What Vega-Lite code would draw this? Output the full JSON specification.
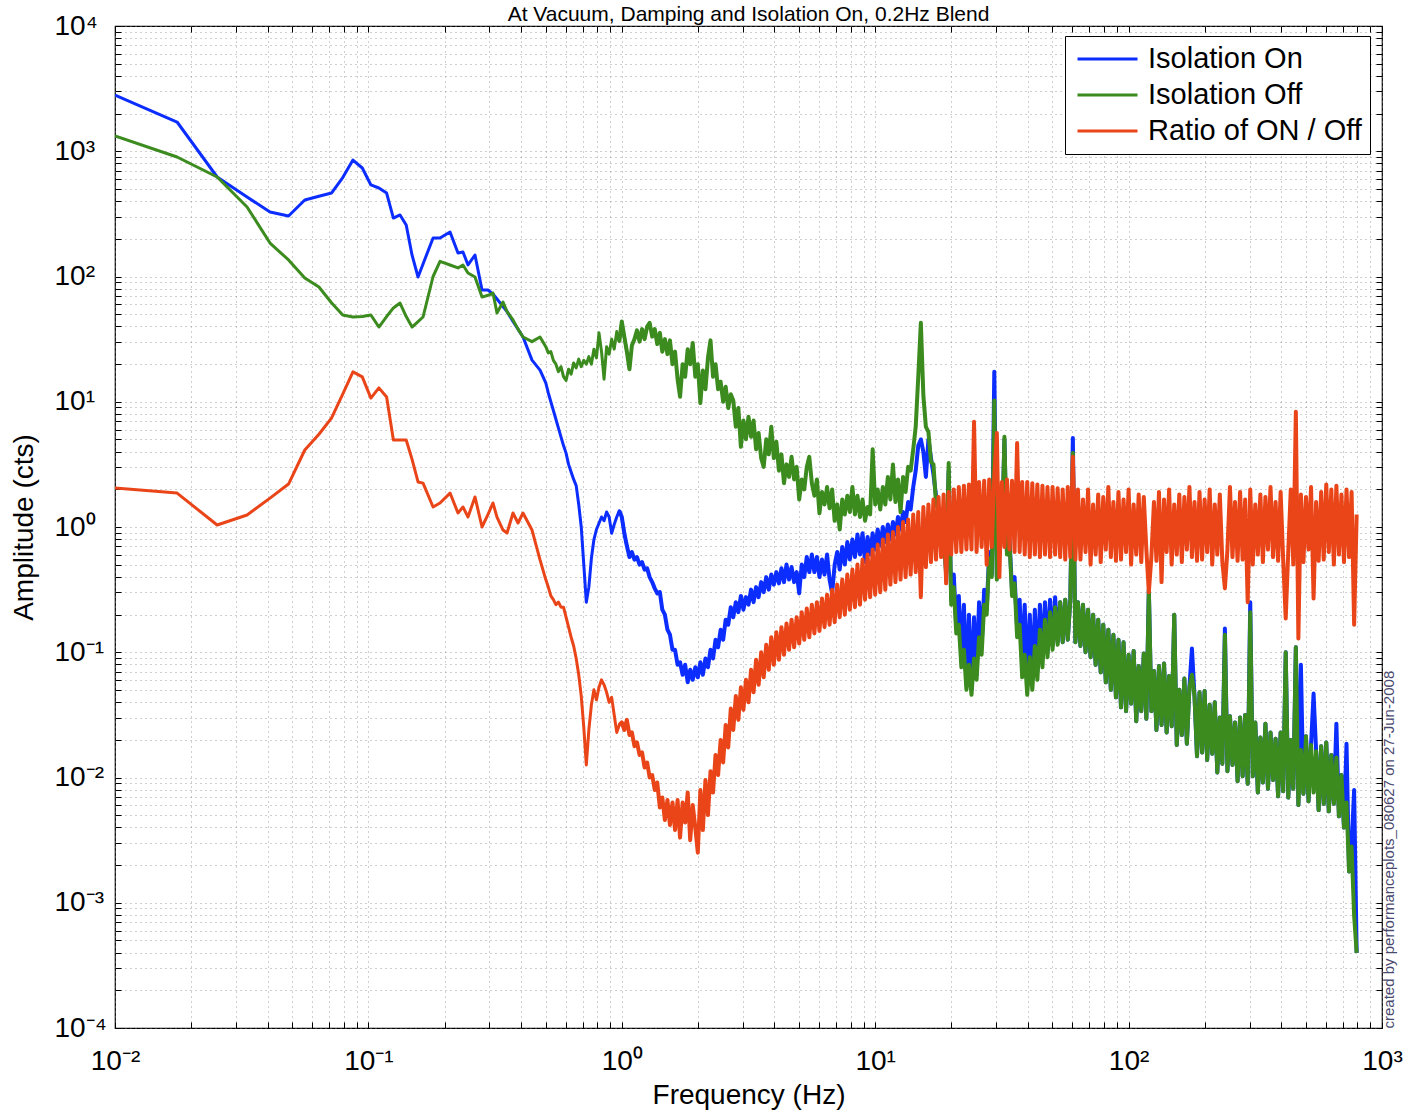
{
"$schema":"https://vega.github.io/schema/vega-lite/v6.json",
"width":1267,"height":1002,"autosize":"none",
"padding":{"left":115,"top":26,"right":25,"bottom":85},
"background":"white",
"title":{"text":"At Vacuum, Damping and Isolation On, 0.2Hz Blend","fontSize":21,"font":"Liberation Sans","fontWeight":"normal","anchor":"middle","baseline":"alphabetic","offset":-30,"color":"#000"},
"config":{"view":{"stroke":"#000","strokeWidth":1.2},"axis":{"labelFont":"Liberation Sans","titleFont":"Liberation Sans","labelColor":"#000","titleColor":"#000","titleFontWeight":"normal","tickColor":"#000","gridColor":"#888","gridDash":[1,4],"gridWidth":1,"gridOpacity":0.8}},
"resolve":{"axis":{"x":"independent","y":"independent"}},
"layer":[
{"data":{"values":[
{"f":0.01,"on":2812,"off":1324,"r":2.046},
{"f":0.01758,"on":1712,"off":899.5,"r":1.866},
{"f":0.0253,"on":622.9,"off":622.9,"r":1.037},
{"f":0.0332,"on":431,"off":359,"r":1.247},
{"f":0.0409,"on":327,"off":185,"r":1.7},
{"f":0.0484,"on":304,"off":135.5,"r":2.203},
{"f":0.0561,"on":408,"off":97.3,"r":4.12},
{"f":0.0638,"on":437,"off":82.4,"r":5.5},
{"f":0.0715,"on":464,"off":61.7,"r":7.41},
{"f":0.0792,"on":617,"off":49.3,"r":11.5},
{"f":0.0869,"on":851,"off":47.5,"r":17.3},
{"f":0.0946,"on":735,"off":47.9,"r":15.8},
{"f":0.1023,"on":538,"off":49.3,"r":10.7},
{"f":0.11,"on":509,"off":39.5,"r":12.9},
{"f":0.118,"on":464,"off":47.9,"r":10.9},
{"f":0.1255,"on":293,"off":56.1,"r":4.95},
{"f":0.1333,"on":310,"off":61.4,"r":4.95},
{"f":0.141,"on":258,"off":47.9,"r":4.95},
{"f":0.1487,"on":148,"off":39.5,"r":3.47},
{"f":0.157,"on":99.1,"off":43.7,"r":2.29},
{"f":0.1643,"on":126,"off":47.5,"r":2.24},
{"f":0.18,"on":203,"off":100,"r":1.445},
{"f":0.1917,"on":203,"off":132,"r":1.556},
{"f":0.21,"on":226.6,"off":123.6,"r":1.866},
{"f":0.2257,"on":154,"off":117,"r":1.294},
{"f":0.2362,"on":157,"off":123.6,"r":1.445},
{"f":0.2472,"on":123.6,"off":106.7,"r":1.202},
{"f":0.2634,"on":148.5,"off":99.1,"r":1.738},
{"f":0.2808,"on":78,"off":68.5,"r":1.0},
{"f":0.2965,"on":78,"off":70.8,"r":1.26},
{"f":0.3102,"on":72.4,"off":73.8,"r":1.556},
{"f":0.3217,"on":66.1,"off":51.2,"r":1.2},
{"f":0.3398,"on":57.5,"off":62.5,"r":0.946},
{"f":0.3524,"on":52.5,"off":52.5,"r":0.895},
{"f":0.3721,"on":43.7,"off":45,"r":1.294},
{"f":0.3894,"on":38,"off":38,"r":1.076},
{"f":0.4075,"on":32.9,"off":32.9,"r":1.294},
{"f":0.4423,"on":21.5,"off":30.2,"r":0.946},
{"f":0.4757,"on":17.9,"off":32.9,"r":0.546},
{"f":0.5012,"on":14.13,"off":27.54,"r":0.3802},
{"f":0.5129,"on":11.75,"off":24.55,"r":0.3311},
{"f":0.5248,"on":10,"off":25.12,"r":0.2818},
{"f":0.537,"on":8.511,"off":21.38,"r":0.263},
{"f":0.5495,"on":7.244,"off":19.95,"r":0.2399},
{"f":0.5623,"on":6.166,"off":17.38,"r":0.2512},
{"f":0.5754,"on":5.248,"off":19.05,"r":0.2291},
{"f":0.5888,"on":4.467,"off":15.85,"r":0.2291},
{"f":0.6026,"on":3.89,"off":14.79,"r":0.1905},
{"f":0.6166,"on":3.162,"off":18.2,"r":0.1585},
{"f":0.631,"on":2.754,"off":16.6,"r":0.1318},
{"f":0.6457,"on":2.399,"off":20.42,"r":0.1122},
{"f":0.6607,"on":2.138,"off":18.62,"r":0.08913},
{"f":0.6761,"on":1.514,"off":21.88,"r":0.06607},
{"f":0.6918,"on":1.0,"off":19.05,"r":0.04467},
{"f":0.7079,"on":0.5012,"off":21.38,"r":0.02512},
{"f":0.7244,"on":0.2512,"off":19.95,"r":0.01259},
{"f":0.7413,"on":0.3311,"off":22.91,"r":0.02399},
{"f":0.7586,"on":0.5623,"off":19.95,"r":0.03802},
{"f":0.7762,"on":0.7943,"off":26.3,"r":0.05012},
{"f":0.7943,"on":0.955,"off":22.39,"r":0.04169},
{"f":0.8128,"on":1.072,"off":35.48,"r":0.05248},
{"f":0.8318,"on":1.202,"off":25.12,"r":0.06026},
{"f":0.8511,"on":1.122,"off":15.14,"r":0.05495},
{"f":0.871,"on":1.318,"off":27.54,"r":0.04786},
{"f":0.8913,"on":1.202,"off":23.99,"r":0.03981},
{"f":0.912,"on":0.8913,"off":31.62,"r":0.04365},
{"f":0.9333,"on":1.047,"off":26.3,"r":0.03162},
{"f":0.955,"on":1.202,"off":36.31,"r":0.02291},
{"f":0.9772,"on":1.349,"off":30.2,"r":0.0263},
{"f":1,"on":1.202,"off":43.65,"r":0.02754},
{"f":1.023,"on":0.8913,"off":33.11,"r":0.02399},
{"f":1.047,"on":0.7079,"off":25.12,"r":0.02884},
{"f":1.072,"on":0.5754,"off":18.2,"r":0.02188},
{"f":1.096,"on":0.631,"off":28.18,"r":0.02291},
{"f":1.122,"on":0.5495,"off":31.62,"r":0.01778},
{"f":1.148,"on":0.5754,"off":37.15,"r":0.01905},
{"f":1.175,"on":0.5012,"off":30.2,"r":0.01514},
{"f":1.202,"on":0.5248,"off":38.02,"r":0.01585},
{"f":1.23,"on":0.4571,"off":31.62,"r":0.01202},
{"f":1.259,"on":0.4677,"off":39.81,"r":0.01318},
{"f":1.288,"on":0.3981,"off":42.66,"r":0.01},
{"f":1.318,"on":0.3631,"off":33.11,"r":0.01047},
{"f":1.349,"on":0.3236,"off":38.02,"r":0.007943},
{"f":1.38,"on":0.2951,"off":28.84,"r":0.00912},
{"f":1.413,"on":0.302,"off":35.48,"r":0.005754},
{"f":1.445,"on":0.2188,"off":25.12,"r":0.006918},
{"f":1.479,"on":0.1995,"off":31.62,"r":0.004571},
{"f":1.514,"on":0.1514,"off":23.99,"r":0.006607},
{"f":1.549,"on":0.138,"off":30.9,"r":0.004169},
{"f":1.585,"on":0.1047,"off":19.95,"r":0.00631},
{"f":1.622,"on":0.1047,"off":25.12,"r":0.003802},
{"f":1.66,"on":0.07943,"off":15.14,"r":0.006607},
{"f":1.698,"on":0.08318,"off":10.96,"r":0.003311},
{"f":1.738,"on":0.06607,"off":19.95,"r":0.00631},
{"f":1.778,"on":0.07943,"off":15.85,"r":0.004365},
{"f":1.82,"on":0.05754,"off":26.3,"r":0.007586},
{"f":1.862,"on":0.07244,"off":19.95,"r":0.003162},
{"f":1.905,"on":0.06026,"off":29.51,"r":0.006026},
{"f":1.95,"on":0.07586,"off":15.85,"r":0.003981},
{"f":1.995,"on":0.0631,"off":19.95,"r":0.002512},
{"f":2.042,"on":0.08318,"off":9.772,"r":0.007943},
{"f":2.089,"on":0.06607,"off":17.78,"r":0.003802},
{"f":2.138,"on":0.08913,"off":12.59,"r":0.00955},
{"f":2.188,"on":0.07586,"off":22.39,"r":0.005012},
{"f":2.239,"on":0.1047,"off":30.9,"r":0.01122},
{"f":2.291,"on":0.08913,"off":15.85,"r":0.007586},
{"f":2.344,"on":0.1259,"off":19.95,"r":0.01514},
{"f":2.399,"on":0.1096,"off":12.59,"r":0.01047},
{"f":2.455,"on":0.1514,"off":14.45,"r":0.01995},
{"f":2.512,"on":0.1259,"off":10,"r":0.01318},
{"f":2.57,"on":0.182,"off":13.18,"r":0.0263},
{"f":2.63,"on":0.166,"off":8.913,"r":0.01738},
{"f":2.692,"on":0.2291,"off":11.48,"r":0.03548},
{"f":2.754,"on":0.1905,"off":10.23,"r":0.02399},
{"f":2.818,"on":0.2512,"off":6.31,"r":0.04467},
{"f":2.884,"on":0.2089,"off":8.913,"r":0.02884},
{"f":2.951,"on":0.2818,"off":4.365,"r":0.05248},
{"f":3.02,"on":0.2188,"off":7.079,"r":0.03467},
{"f":3.09,"on":0.2754,"off":5.012,"r":0.06026},
{"f":3.162,"on":0.2399,"off":7.586,"r":0.03981},
{"f":3.236,"on":0.3162,"off":5.248,"r":0.07244},
{"f":3.311,"on":0.2512,"off":7.079,"r":0.04786},
{"f":3.388,"on":0.3311,"off":4.169,"r":0.0871},
{"f":3.467,"on":0.2754,"off":5.623,"r":0.05495},
{"f":3.548,"on":0.3631,"off":3.548,"r":0.1},
{"f":3.631,"on":0.302,"off":3.02,"r":0.0631},
{"f":3.715,"on":0.3981,"off":5.012,"r":0.1148},
{"f":3.802,"on":0.3162,"off":3.802,"r":0.07244},
{"f":3.89,"on":0.4169,"off":6.31,"r":0.1318},
{"f":3.981,"on":0.3467,"off":3.548,"r":0.07943},
{"f":4.074,"on":0.4365,"off":4.786,"r":0.1445},
{"f":4.169,"on":0.3548,"off":2.818,"r":0.0871},
{"f":4.266,"on":0.4677,"off":3.802,"r":0.1585},
{"f":4.365,"on":0.3631,"off":2.239,"r":0.0955},
{"f":4.467,"on":0.5012,"off":3.162,"r":0.1698},
{"f":4.571,"on":0.3802,"off":2.512,"r":0.1047},
{"f":4.677,"on":0.4786,"off":3.631,"r":0.182},
{"f":4.786,"on":0.3631,"off":2.399,"r":0.1096},
{"f":4.898,"on":0.4365,"off":3.02,"r":0.1905},
{"f":5.012,"on":0.2951,"off":1.66,"r":0.1175},
{"f":5.129,"on":0.5012,"off":2.399,"r":0.2089},
{"f":5.248,"on":0.3981,"off":1.995,"r":0.1259},
{"f":5.37,"on":0.5754,"off":3.02,"r":0.2239},
{"f":5.495,"on":0.4365,"off":3.631,"r":0.1318},
{"f":5.623,"on":0.6026,"off":2.239,"r":0.2399},
{"f":5.754,"on":0.4365,"off":1.778,"r":0.1413},
{"f":5.888,"on":0.5754,"off":2.399,"r":0.2512},
{"f":6.026,"on":0.3981,"off":1.288,"r":0.1479},
{"f":6.166,"on":0.5495,"off":1.905,"r":0.2692},
{"f":6.31,"on":0.4169,"off":1.514,"r":0.1585},
{"f":6.457,"on":0.6026,"off":2.089,"r":0.2884},
{"f":6.607,"on":0.3802,"off":1.413,"r":0.166},
{"f":6.761,"on":0.2951,"off":1.995,"r":0.3162},
{"f":6.918,"on":0.5012,"off":1.122,"r":0.1738},
{"f":7.079,"on":0.631,"off":1.514,"r":0.3467},
{"f":7.244,"on":0.4571,"off":0.955,"r":0.1905},
{"f":7.413,"on":0.6918,"off":1.66,"r":0.3802},
{"f":7.586,"on":0.5012,"off":1.259,"r":0.1995},
{"f":7.762,"on":0.7586,"off":1.778,"r":0.4169},
{"f":7.943,"on":0.5495,"off":1.318,"r":0.2188},
{"f":8.128,"on":0.7943,"off":2.089,"r":0.4571},
{"f":8.318,"on":0.5754,"off":1.259,"r":0.2291},
{"f":8.511,"on":0.871,"off":1.778,"r":0.5012},
{"f":8.71,"on":0.6026,"off":1.202,"r":0.2399},
{"f":8.913,"on":0.8913,"off":1.66,"r":0.5495},
{"f":9.12,"on":0.5248,"off":1.122,"r":0.263},
{"f":9.333,"on":0.8318,"off":1.445,"r":0.6026},
{"f":9.55,"on":0.6026,"off":1.259,"r":0.2754},
{"f":9.772,"on":0.8913,"off":4.169,"r":0.6607},
{"f":10,"on":0.6607,"off":1.514,"r":0.2884},
{"f":10.23,"on":0.955,"off":1.995,"r":0.7244},
{"f":10.47,"on":0.7079,"off":1.38,"r":0.302},
{"f":10.72,"on":1,"off":2.089,"r":0.7943},
{"f":10.96,"on":0.7586,"off":1.514,"r":0.3162},
{"f":11.22,"on":1.047,"off":2.512,"r":0.871},
{"f":11.48,"on":0.7943,"off":1.66,"r":0.3467},
{"f":11.75,"on":1.096,"off":3.162,"r":0.912},
{"f":12.02,"on":0.871,"off":1.585,"r":0.3631},
{"f":12.3,"on":1.202,"off":2.399,"r":1},
{"f":12.59,"on":0.955,"off":1.318,"r":0.3802},
{"f":12.88,"on":1.318,"off":2.512,"r":1.096},
{"f":13.18,"on":1.096,"off":1.905,"r":0.3981},
{"f":13.49,"on":1.585,"off":3.02,"r":1.148},
{"f":13.8,"on":1.38,"off":2.818,"r":0.4169},
{"f":14.13,"on":2.089,"off":4.169,"r":1.259},
{"f":14.45,"on":2.818,"off":6.31,"r":0.4365},
{"f":14.79,"on":4.467,"off":15.85,"r":1.318},
{"f":15.14,"on":5.0,"off":42.66,"r":0.2754},
{"f":15.49,"on":3.981,"off":11.22,"r":1.445},
{"f":15.85,"on":2.512,"off":6.31,"r":0.4786},
{"f":16.22,"on":5.012,"off":5.754,"r":1.514},
{"f":16.6,"on":3.548,"off":3.311,"r":0.5248},
{"f":16.98,"on":2.63,"off":3.162,"r":1.66},
{"f":17.38,"on":1.778,"off":1.514,"r":0.5495},
{"f":17.78,"on":1.413,"off":1.38,"r":1.738},
{"f":18.2,"on":0.7586,"off":0.7079,"r":0.5754},
{"f":18.62,"on":0.8913,"off":0.8913,"r":1.82},
{"f":19.05,"on":0.4365,"off":0.4169,"r":0.3548},
{"f":19.5,"on":2.818,"off":3.236,"r":1.905},
{"f":19.95,"on":0.263,"off":0.2399,"r":0.6026},
{"f":20.42,"on":0.4169,"off":0.3311,"r":1.995},
{"f":20.89,"on":0.1585,"off":0.1413,"r":0.631},
{"f":21.38,"on":0.2818,"off":0.166,"r":2.089},
{"f":21.88,"on":0.08913,"off":0.07586,"r":0.631},
{"f":22.39,"on":0.2399,"off":0.1047,"r":2.138},
{"f":22.91,"on":0.05623,"off":0.05012,"r":0.6607},
{"f":23.44,"on":0.1995,"off":0.07943,"r":2.188},
{"f":23.99,"on":0.05012,"off":0.04571,"r":0.6607},
{"f":24.55,"on":0.1905,"off":0.08913,"r":6.918},
{"f":25.12,"on":0.06607,"off":0.06026,"r":0.631},
{"f":25.7,"on":0.2512,"off":0.1318,"r":2.291},
{"f":26.3,"on":0.1122,"off":0.0955,"r":0.6918},
{"f":26.92,"on":0.3162,"off":0.2399,"r":2.344},
{"f":27.54,"on":0.2188,"off":0.1995,"r":0.5012},
{"f":28.18,"on":0.631,"off":0.5623,"r":2.399},
{"f":28.84,"on":0.4169,"off":0.3981,"r":0.6918},
{"f":29.51,"on":17.38,"off":10.23,"r":2.512},
{"f":30.2,"on":0.3981,"off":0.3802,"r":5.623},
{"f":30.9,"on":1.148,"off":1.148,"r":0.3981},
{"f":31.62,"on":0.7943,"off":0.7586,"r":2.291},
{"f":32.36,"on":5.012,"off":5.248,"r":0.6918},
{"f":33.11,"on":0.631,"off":0.6026,"r":2.399},
{"f":33.88,"on":0.7943,"off":0.7586,"r":0.6607},
{"f":34.67,"on":0.3162,"off":0.2818,"r":2.344},
{"f":35.48,"on":0.3981,"off":0.3548,"r":0.631},
{"f":36.31,"on":0.1585,"off":0.1318,"r":4.677},
{"f":37.15,"on":0.263,"off":0.166,"r":0.631},
{"f":38.02,"on":0.07943,"off":0.0631,"r":2.291},
{"f":38.9,"on":0.2399,"off":0.0955,"r":0.6026},
{"f":39.81,"on":0.05623,"off":0.04571,"r":2.291},
{"f":40.74,"on":0.1995,"off":0.0912,"r":0.5754},
{"f":41.69,"on":0.06026,"off":0.05012,"r":2.239},
{"f":42.66,"on":0.2188,"off":0.1122,"r":0.6026},
{"f":43.65,"on":0.07079,"off":0.06026,"r":2.188},
{"f":44.67,"on":0.2399,"off":0.1514,"r":0.5754},
{"f":45.71,"on":0.08913,"off":0.07586,"r":2.138},
{"f":46.77,"on":0.2512,"off":0.182,"r":0.6026},
{"f":47.86,"on":0.1,"off":0.0912,"r":2.089},
{"f":48.98,"on":0.263,"off":0.2089,"r":0.5754},
{"f":50.12,"on":0.1122,"off":0.1047,"r":2.089},
{"f":51.29,"on":0.2754,"off":0.2291,"r":0.6026},
{"f":52.48,"on":0.1202,"off":0.1148,"r":2.042},
{"f":53.7,"on":0.2512,"off":0.2512,"r":0.5754},
{"f":54.95,"on":0.1202,"off":0.1202,"r":1.995},
{"f":56.23,"on":0.263,"off":0.263,"r":0.5495},
{"f":57.54,"on":0.1259,"off":0.1259,"r":2.089},
{"f":58.88,"on":0.263,"off":0.263,"r":0.5754},
{"f":60.26,"on":5.129,"off":3.89,"r":3.631},
{"f":61.66,"on":0.1202,"off":0.1202,"r":0.5495},
{"f":63.1,"on":0.2512,"off":0.2512,"r":1.995},
{"f":64.57,"on":0.1122,"off":0.1122,"r":0.5495},
{"f":66.07,"on":0.2399,"off":0.2399,"r":1.66},
{"f":67.61,"on":0.1,"off":0.1,"r":0.631},
{"f":69.18,"on":0.2188,"off":0.2188,"r":1.995},
{"f":70.79,"on":0.0912,"off":0.0912,"r":0.5012},
{"f":72.44,"on":0.1995,"off":0.1995,"r":1.514},
{"f":74.13,"on":0.07943,"off":0.07943,"r":0.6026},
{"f":75.86,"on":0.182,"off":0.182,"r":1.82},
{"f":77.62,"on":0.06918,"off":0.06918,"r":0.5248},
{"f":79.43,"on":0.166,"off":0.166,"r":1.738},
{"f":81.28,"on":0.05754,"off":0.05754,"r":0.6607},
{"f":83.18,"on":0.1514,"off":0.1514,"r":2.089},
{"f":85.11,"on":0.05012,"off":0.05012,"r":0.5754},
{"f":87.1,"on":0.138,"off":0.138,"r":1.585},
{"f":89.13,"on":0.04365,"off":0.04365,"r":0.537},
{"f":91.2,"on":0.1259,"off":0.1259,"r":1.905},
{"f":93.33,"on":0.03631,"off":0.03631,"r":0.5495},
{"f":95.5,"on":0.1202,"off":0.1202,"r":1.66},
{"f":97.72,"on":0.03388,"off":0.03388,"r":0.631},
{"f":100,"on":0.0955,"off":0.0955,"r":1.995},
{"f":102.3,"on":0.0389,"off":0.0389,"r":0.5012},
{"f":104.7,"on":0.1023,"off":0.1023,"r":1.514},
{"f":107.2,"on":0.02818,"off":0.02818,"r":0.6026},
{"f":109.6,"on":0.07762,"off":0.07762,"r":1.82},
{"f":112.2,"on":0.03388,"off":0.03388,"r":0.5248},
{"f":114.8,"on":0.09772,"off":0.09772,"r":1.738},
{"f":117.5,"on":0.02951,"off":0.02951,"r":0.6607},
{"f":120.2,"on":0.3162,"off":0.3162,"r":0.302},
{"f":123,"on":0.03388,"off":0.03388,"r":0.5754},
{"f":125.9,"on":0.07079,"off":0.07079,"r":1.585},
{"f":128.8,"on":0.02399,"off":0.02399,"r":0.537},
{"f":131.8,"on":0.07762,"off":0.07762,"r":1.905},
{"f":134.9,"on":0.0263,"off":0.0263,"r":0.3631},
{"f":138,"on":0.08128,"off":0.08128,"r":1.66},
{"f":141.3,"on":0.02291,"off":0.02291,"r":0.631},
{"f":144.5,"on":0.06457,"off":0.06457,"r":1.995},
{"f":147.9,"on":0.0257,"off":0.0257,"r":0.5012},
{"f":151.4,"on":0.1995,"off":0.1995,"r":1.514},
{"f":154.9,"on":0.0182,"off":0.0182,"r":0.6026},
{"f":158.5,"on":0.05012,"off":0.05012,"r":1.82},
{"f":162.2,"on":0.02188,"off":0.02188,"r":0.5248},
{"f":166,"on":0.06166,"off":0.06166,"r":1.738},
{"f":169.8,"on":0.01862,"off":0.01862,"r":0.6607},
{"f":173.8,"on":0.05248,"off":0.05248,"r":2.089},
{"f":177.8,"on":0.1072,"off":0.06607,"r":0.5754},
{"f":182,"on":0.04467,"off":0.04467,"r":1.585},
{"f":186.2,"on":0.01479,"off":0.01479,"r":0.537},
{"f":190.5,"on":0.04786,"off":0.04786,"r":1.905},
{"f":195,"on":0.01585,"off":0.01585,"r":0.5495},
{"f":199.5,"on":0.04898,"off":0.04898,"r":1.66},
{"f":204.2,"on":0.0138,"off":0.0138,"r":0.631},
{"f":208.9,"on":0.03802,"off":0.03802,"r":1.995},
{"f":213.8,"on":0.01549,"off":0.01549,"r":0.5012},
{"f":218.8,"on":0.03981,"off":0.03981,"r":1.514},
{"f":223.9,"on":0.01096,"off":0.01096,"r":0.6026},
{"f":229.1,"on":0.0302,"off":0.0302,"r":1.82},
{"f":234.4,"on":0.01288,"off":0.01288,"r":0.5248},
{"f":239.9,"on":0.1549,"off":0.138,"r":0.3236},
{"f":245.5,"on":0.01122,"off":0.01122,"r":0.6607},
{"f":251.2,"on":0.0309,"off":0.0309,"r":2.089},
{"f":257,"on":0.01259,"off":0.01259,"r":0.5754},
{"f":263,"on":0.02754,"off":0.02754,"r":1.585},
{"f":269.2,"on":0.009333,"off":0.009333,"r":0.537},
{"f":275.4,"on":0.0302,"off":0.0302,"r":1.905},
{"f":281.8,"on":0.01023,"off":0.01023,"r":0.5495},
{"f":288.4,"on":0.03162,"off":0.03162,"r":1.66},
{"f":295.1,"on":0.008913,"off":0.008913,"r":0.2512},
{"f":302,"on":0.2512,"off":0.2089,"r":1.995},
{"f":309,"on":0.01023,"off":0.01023,"r":0.5012},
{"f":316.2,"on":0.02754,"off":0.02754,"r":1.514},
{"f":323.6,"on":0.007586,"off":0.007586,"r":0.6026},
{"f":331.1,"on":0.02089,"off":0.02089,"r":1.82},
{"f":338.8,"on":0.00912,"off":0.00912,"r":0.5248},
{"f":346.7,"on":0.02692,"off":0.02692,"r":1.738},
{"f":354.8,"on":0.008128,"off":0.008128,"r":0.6607},
{"f":363.1,"on":0.02291,"off":0.02291,"r":2.089},
{"f":371.5,"on":0.00955,"off":0.00955,"r":0.5754},
{"f":380.2,"on":0.02042,"off":0.02042,"r":1.585},
{"f":389,"on":0.007079,"off":0.007079,"r":0.537},
{"f":398.1,"on":0.02291,"off":0.02291,"r":1.905},
{"f":407.4,"on":0.007762,"off":0.007762,"r":0.5495},
{"f":416.9,"on":0.1,"off":0.1,"r":0.1862},
{"f":426.6,"on":0.006918,"off":0.006918,"r":0.631},
{"f":436.5,"on":0.01995,"off":0.01995,"r":1.995},
{"f":446.7,"on":0.008128,"off":0.008128,"r":0.5012},
{"f":457.1,"on":0.1096,"off":0.1096,"r":8.318},
{"f":467.7,"on":0.006026,"off":0.006026,"r":0.1288},
{"f":478.6,"on":0.07943,"off":0.0166,"r":1.82},
{"f":489.8,"on":0.007413,"off":0.007413,"r":0.5248},
{"f":501.2,"on":0.02138,"off":0.02138,"r":1.738},
{"f":512.9,"on":0.006457,"off":0.006457,"r":0.6607},
{"f":524.8,"on":0.0182,"off":0.0182,"r":2.089},
{"f":537,"on":0.04677,"off":0.007586,"r":0.2692},
{"f":549.5,"on":0.01622,"off":0.01622,"r":1.585},
{"f":562.3,"on":0.005495,"off":0.005495,"r":0.537},
{"f":575.4,"on":0.01778,"off":0.01778,"r":1.905},
{"f":588.8,"on":0.006166,"off":0.006166,"r":0.5495},
{"f":602.6,"on":0.01905,"off":0.01905,"r":2.188},
{"f":616.6,"on":0.00537,"off":0.00537,"r":0.631},
{"f":631,"on":0.01514,"off":0.01514,"r":1.995},
{"f":645.7,"on":0.006166,"off":0.006166,"r":0.5012},
{"f":660.7,"on":0.02692,"off":0.01445,"r":2.138},
{"f":676.1,"on":0.004898,"off":0.004898,"r":0.6026},
{"f":691.8,"on":0.01047,"off":0.01047,"r":1.82},
{"f":707.9,"on":0.003981,"off":0.003981,"r":0.5248},
{"f":724.4,"on":0.01862,"off":0.00631,"r":1.995},
{"f":741.3,"on":0.001778,"off":0.001778,"r":0.5754},
{"f":758.6,"on":0.002818,"off":0.002818,"r":1.905},
{"f":776.2,"on":0.007943,"off":0.0007943,"r":0.166},
{"f":794.3,"on":0.0003981,"off":0.0003981,"r":1.259}
]},
"transform":[{"fold":["on","off","r"],"as":["series","a"]},{"filter":"isValid(datum.a)"}],
"layer":[
{"transform":[{"filter":"datum.f < 1.05"}],
"mark":{"type":"line","strokeWidth":3,"strokeJoin":"round","clip":true},
"encoding":{
"x":{"field":"f","type":"quantitative","scale":{"type":"log","domain":[0.01,1000],"nice":false},
"axis":{"orient":"bottom","title":"Frequency (Hz)","titleFontSize":28,"titlePadding":6,"labelFontSize":28,"labelPadding":25,"tickSize":-6,"domain":false,"grid":true,"labelFlush":false,"labelOverlap":false,
"values":[0.01,0.02,0.03,0.04,0.05,0.06,0.07,0.08,0.09,0.1,0.2,0.3,0.4,0.5,0.6,0.7,0.8,0.9,1,2,3,4,5,6,7,8,9,10,20,30,40,50,60,70,80,90,100,200,300,400,500,600,700,800,900,1000],
"labelExpr":"abs(log(datum.value)/LN10 - round(log(datum.value)/LN10)) < 0.001 ? '10' + replace(replace(replace(replace(replace(replace(toString(round(log(datum.value)/LN10)),'-','⁻'),'0','⁰'),'1','¹'),'2','²'),'3','³'),'4','⁴') : ''"}},
"y":{"field":"a","type":"quantitative","scale":{"type":"log","domain":[0.0001,10000],"nice":false},
"axis":{"orient":"left","title":"Amplitude (cts)","titleFontSize":28,"titlePadding":16,"labelFontSize":28,"labelAlign":"left","labelPadding":67,"tickSize":-6,"domain":false,"grid":true,"labelFlush":false,"labelOverlap":false,
"values":[0.0001,0.0002,0.0003,0.0004,0.0005,0.0006,0.0007,0.0008,0.0009,0.001,0.002,0.003,0.004,0.005,0.006,0.007,0.008,0.009,0.01,0.02,0.03,0.04,0.05,0.06,0.07,0.08,0.09,0.1,0.2,0.3,0.4,0.5,0.6,0.7,0.8,0.9,1,2,3,4,5,6,7,8,9,10,20,30,40,50,60,70,80,90,100,200,300,400,500,600,700,800,900,1000,2000,3000,4000,5000,6000,7000,8000,9000,10000],
"labelExpr":"abs(log(datum.value)/LN10 - round(log(datum.value)/LN10)) < 0.001 ? '10' + replace(replace(replace(replace(replace(replace(toString(round(log(datum.value)/LN10)),'-','⁻'),'0','⁰'),'1','¹'),'2','²'),'3','³'),'4','⁴') : ''"}},
"color":{"field":"series","type":"nominal","scale":{"domain":["on","off","r"],"range":["#0b2dff","#3b8b1e","#ea4518"]},
"legend":{"orient":"none","legendX":950,"legendY":10,"title":null,"labelFont":"Liberation Sans","labelFontSize":29,"labelColor":"#000","labelLimit":400,"symbolType":"stroke","symbolSize":3600,"symbolStrokeWidth":3,"symbolOffset":3,"strokeColor":"#000","fillColor":"white","padding":8,"clipHeight":30,"rowPadding":6,"labelOffset":9,
"labelExpr":"datum.label == 'on' ? 'Isolation On' : datum.label == 'off' ? 'Isolation Off' : 'Ratio of ON / Off'"}}
}},
{"transform":[{"filter":"datum.f > 0.97"}],
"mark":{"type":"line","strokeWidth":4,"strokeJoin":"round","clip":true},
"encoding":{
"x":{"field":"f","type":"quantitative"},
"y":{"field":"a","type":"quantitative"},
"color":{"field":"series","type":"nominal",
"legend":{"orient":"none","legendX":950,"legendY":10,"title":null,"labelFont":"Liberation Sans","labelFontSize":29,"labelColor":"#000","labelLimit":400,"symbolType":"stroke","symbolSize":3600,"symbolStrokeWidth":3,"symbolOffset":3,"strokeColor":"#000","fillColor":"white","padding":8,"clipHeight":30,"rowPadding":6,"labelOffset":9,
"labelExpr":"datum.label == 'on' ? 'Isolation On' : datum.label == 'off' ? 'Isolation Off' : 'Ratio of ON / Off'"}}
}}
]},
{"data":{"values":[{"f":1,"a":1}]},
"mark":{"type":"point","opacity":0},
"encoding":{
"x":{"field":"f","type":"quantitative","scale":{"type":"log","domain":[0.01,1000],"nice":false},
"axis":{"orient":"top","labels":false,"title":null,"grid":false,"domain":false,"tickSize":-6,
"values":[0.01,0.02,0.03,0.04,0.05,0.06,0.07,0.08,0.09,0.1,0.2,0.3,0.4,0.5,0.6,0.7,0.8,0.9,1,2,3,4,5,6,7,8,9,10,20,30,40,50,60,70,80,90,100,200,300,400,500,600,700,800,900,1000]}},
"y":{"field":"a","type":"quantitative","scale":{"type":"log","domain":[0.0001,10000],"nice":false},
"axis":{"orient":"right","labels":false,"grid":false,"domain":false,"tickSize":-6,
"values":[0.0001,0.0002,0.0003,0.0004,0.0005,0.0006,0.0007,0.0008,0.0009,0.001,0.002,0.003,0.004,0.005,0.006,0.007,0.008,0.009,0.01,0.02,0.03,0.04,0.05,0.06,0.07,0.08,0.09,0.1,0.2,0.3,0.4,0.5,0.6,0.7,0.8,0.9,1,2,3,4,5,6,7,8,9,10,20,30,40,50,60,70,80,90,100,200,300,400,500,600,700,800,900,1000,2000,3000,4000,5000,6000,7000,8000,9000,10000],
"title":"created by performanceplots_080627 on 27-Jun-2008","titleFont":"Liberation Sans","titleFontSize":15,"titleColor":"#4a4a70","titleAngle":270,"titleAnchor":"start","titlePadding":14}}
}}
]
}
